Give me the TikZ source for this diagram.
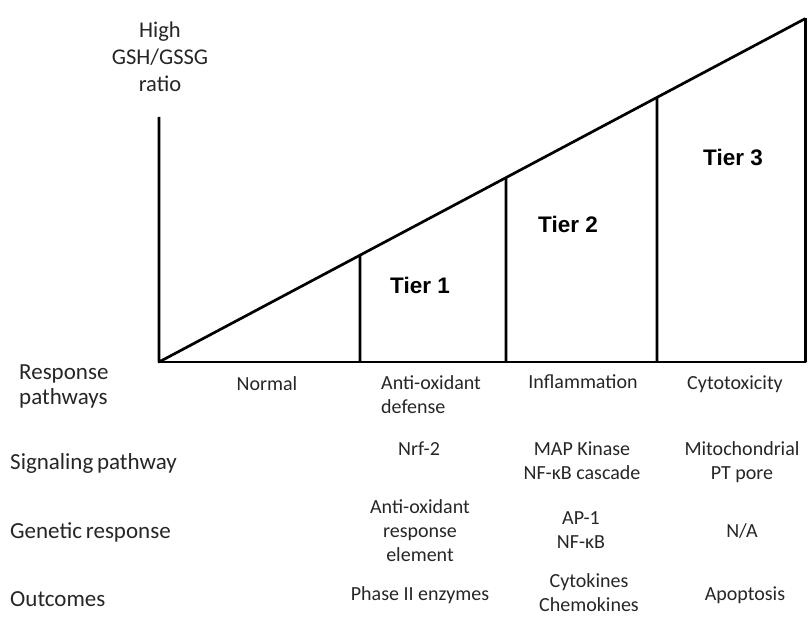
\documentclass[tikz,border=0pt]{standalone}
\usepackage{fontspec}
\setmainfont{Carlito}
\newfontfamily\tierfont{Liberation Sans}
\usetikzlibrary{calc}
\begin{document}
\begin{tikzpicture}[x=1pt,y=-1pt,
  axis/.style={line width=2.7pt,line join=round},
  lbl/.style={font=\fontsize{20}{24}\selectfont,text=black!85,align=center,inner sep=0pt},
  rowlbl/.style={font=\fontsize{23}{25}\selectfont,text=black!85,inner sep=0pt,anchor=west,align=left},
  tier/.style={font=\tierfont\bfseries\fontsize{22.5}{24}\selectfont,inner sep=0pt}]
\useasboundingbox (0,0) rectangle (808,617);
% geometry
\coordinate (O) at (159,362);
\coordinate (Atop) at (159,117);
\coordinate (Rb) at (805.5,362);
\coordinate (Rt) at (805.5,18.5);
\coordinate (d1b) at (360,362);
\coordinate (d1t) at ($(O)!{(360-159)/(805.5-159)}!(Rt)$);
\coordinate (d2b) at (506,362);
\coordinate (d2t) at ($(O)!{(506-159)/(805.5-159)}!(Rt)$);
\coordinate (d3b) at (657,362);
\coordinate (d3t) at ($(O)!{(657-159)/(805.5-159)}!(Rt)$);
\draw[axis] (Atop) -- (O) -- (Rt);
\draw[axis] (O) -- (Rb) -- (Rt);
\draw[axis] (d1b) -- (d1t);
\draw[axis] (d2b) -- (d2t);
\draw[axis] (d3b) -- (d3t);
% axis label
\node[lbl,font=\fontsize{22.5}{27}\selectfont] (ylab) at (160,57) {High\\GSH/GSSG\\ratio};
% tiers
\node[tier] (t1) at (420,285) {Tier 1};
\node[tier] (t2) at (568,224) {Tier 2};
\node[tier] (t3) at (733,157) {Tier 3};
% row labels
\node[rowlbl] (r1) at (19,386) {Response\\pathways};
\node[rowlbl] (r2) at (10,463) {Signaling\hspace{-1.5pt} pathway};
\node[rowlbl] (r3) at (10,532) {Genetic\hspace{-1.5pt} response};
\node[rowlbl] (r4) at (10,599) {Outcomes};
% column texts
\node[lbl] (c0) at (267,384) {Normal};
\node[lbl,anchor=north west,align=left] (c1a) at (381,375) {Anti-oxidant\\defense};
\node[lbl] (c2a) at (583,382) {Inflammation};
\node[lbl] (c3a) at (735,384) {Cytotoxicity};
\node[lbl] (c1b) at (419,449) {Nrf-2};
\node[lbl] (c2b) at (582,461) {MAP Kinase\\NF-κB cascade};
\node[lbl] (c3b) at (742,462) {Mitochondrial\\PT pore};
\node[lbl] (c1c) at (420,531) {Anti-oxidant\\response\\element};
\node[lbl] (c2c) at (581,530) {AP-1\\NF-κB};
\node[lbl] (c3c) at (742,531) {N/A};
\node[lbl] (c1d) at (420,595) {Phase II enzymes};
\node[lbl] (c2d) at (589,593) {Cytokines\\Chemokines};
\node[lbl] (c3d) at (745,595) {Apoptosis};
\end{tikzpicture}
\end{document}
